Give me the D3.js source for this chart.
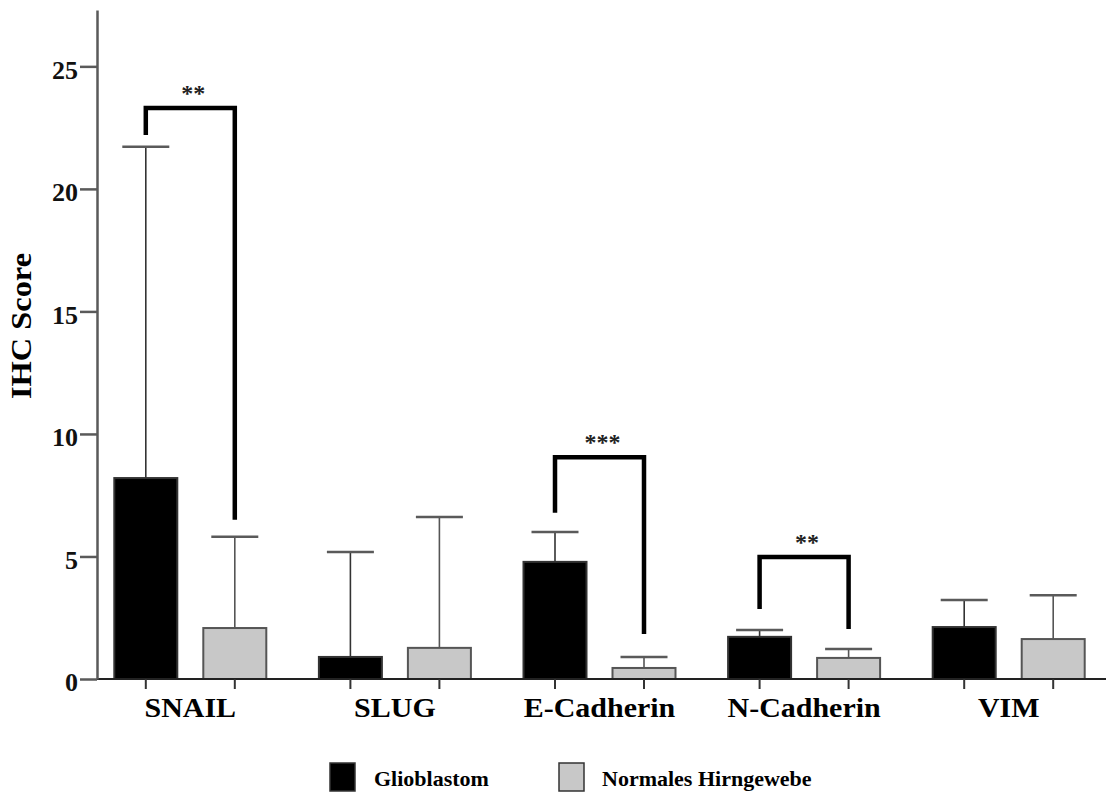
<!DOCTYPE html>
<html>
<head>
<meta charset="utf-8">
<script src="https://cdn.jsdelivr.net/npm/d3@7"></script>
<style>
  html, body { margin: 0; padding: 0; background: #fff; }
  svg { display: block; }
  text { font-family: "Liberation Serif", "Tinos", "Times New Roman", Times, "DejaVu Serif", serif; font-weight: bold; }
</style>
</head>
<body>
<script>
// ---------- data ----------
const categories = ["SNAIL", "SLUG", "E-Cadherin", "N-Cadherin", "VIM"];
const seriesNames = ["Glioblastom", "Normales Hirngewebe"];
const glioblastomMean  = [8.2, 0.9, 4.78, 1.72, 2.12];
const glioblastomUpper = [21.72, 5.18, 6.0, 2.0, 3.22];
const normalMean  = [2.08, 1.27, 0.45, 0.86, 1.63];
const normalUpper = [5.8, 6.61, 0.9, 1.22, 3.42];
const yTicks = [0, 5, 10, 15, 20, 25];
const yLabel = "IHC Score";
// significance brackets: category, stars, top, left leg end, right leg end
const sigCategory = ["SNAIL", "E-Cadherin", "N-Cadherin"];
const sigStars    = ["**", "***", "**"];
const sigTop      = [23.3, 9.05, 4.98];
const sigLeftEnd  = [22.2, 6.78, 2.86];
const sigRightEnd = [6.5, 1.84, 2.04];

// ---------- layout ----------
const W = 1106, H = 795;
const svg = d3.select("body").append("svg").attr("width", W).attr("height", H);

const y = d3.scaleLinear().domain([0, 27.3]).range([679, 10]);
const x0 = d3.scaleBand().domain(categories).range([88, 1111]).padding(0);
const x1 = d3.scaleBand().domain(seriesNames).range([-89, 89]).paddingInner(26 / 89).paddingOuter(13 / 89);
const fills = { "Glioblastom": "#000000", "Normales Hirngewebe": "#c8c8c8" };

const rows = [];
categories.forEach((c, i) => {
  rows.push({ cat: c, s: seriesNames[0], v: glioblastomMean[i], up: glioblastomUpper[i] });
  rows.push({ cat: c, s: seriesNames[1], v: normalMean[i], up: normalUpper[i] });
});
const barC = (cat, s) => x0(cat) + x0.bandwidth() / 2 + x1(s) + x1.bandwidth() / 2;

// bars
svg.append("g").selectAll("rect").data(rows).join("rect")
  .attr("x", d => x0(d.cat) + x0.bandwidth() / 2 + x1(d.s))
  .attr("width", x1.bandwidth())
  .attr("y", d => y(d.v))
  .attr("height", d => y(0) - y(d.v))
  .attr("fill", d => fills[d.s])
  .attr("stroke", d => d.s === seriesNames[0] ? "#333" : "#555")
  .attr("stroke-width", 2);

// error bars
const eb = svg.append("g");
eb.selectAll("line.stem").data(rows).join("line").attr("class", "stem")
  .attr("x1", d => barC(d.cat, d.s)).attr("x2", d => barC(d.cat, d.s))
  .attr("y1", d => y(d.v)).attr("y2", d => y(d.up))
  .attr("stroke", d => d.s === seriesNames[0] ? "#333" : "#555").attr("stroke-width", 1.6);
eb.selectAll("line.cap").data(rows).join("line").attr("class", "cap")
  .attr("x1", d => barC(d.cat, d.s) - 23.5).attr("x2", d => barC(d.cat, d.s) + 23.5)
  .attr("y1", d => y(d.up)).attr("y2", d => y(d.up))
  .attr("stroke", "#5a5a5a").attr("stroke-width", 2.5);

// x axis line + small ticks under bars
svg.append("line").attr("x1", 97).attr("x2", W).attr("y1", y(0)).attr("y2", y(0))
  .attr("stroke", "#222").attr("stroke-width", 1.8);
svg.append("g").selectAll("line").data(rows).join("line")
  .attr("x1", d => barC(d.cat, d.s)).attr("x2", d => barC(d.cat, d.s))
  .attr("y1", y(0)).attr("y2", y(0) + 10)
  .attr("stroke", "#333").attr("stroke-width", 2);

const xAxis = svg.append("g").attr("transform", `translate(0,${y(0)})`)
  .call(d3.axisBottom(x0).tickSize(0).tickPadding(18));
xAxis.select(".domain").remove();
xAxis.attr("font-family", null);
xAxis.selectAll("text").attr("font-size", 28).attr("fill", "#000").attr("font-family", null)
  .each(function () {
    const len = this.getComputedTextLength();
    d3.select(this).attr("textLength", len * 1.07).attr("lengthAdjust", "spacingAndGlyphs");
  });

// y axis
const yAxis = svg.append("g").attr("transform", "translate(97,0)")
  .call(d3.axisLeft(y).tickValues(yTicks).tickSize(17).tickSizeOuter(0).tickPadding(2));
yAxis.attr("font-family", null);
yAxis.select(".domain").attr("stroke", "#5a5a5a").attr("stroke-width", 2.5);
yAxis.selectAll(".tick line").attr("stroke", "#5a5a5a").attr("stroke-width", 2.5);
yAxis.selectAll("text").attr("font-size", 26).attr("fill", "#111").attr("dy", "0.45em").attr("font-family", null);

svg.append("text").attr("transform", "translate(31,326) rotate(-90)")
  .attr("text-anchor", "middle").attr("font-size", 30).attr("fill", "#000")
  .attr("textLength", 146).attr("lengthAdjust", "spacingAndGlyphs").text(yLabel);

// significance brackets
const sig = sigCategory.map((c, i) => ({ cat: c, stars: sigStars[i], top: sigTop[i], l: sigLeftEnd[i], r: sigRightEnd[i] }));
const sg = svg.append("g");
sg.selectAll("path").data(sig).join("path")
  .attr("d", d => {
    const xl = barC(d.cat, seriesNames[0]), xr = barC(d.cat, seriesNames[1]);
    return `M${xl},${y(d.l)}V${y(d.top)}H${xr}V${y(d.r)}`;
  })
  .attr("fill", "none").attr("stroke", "#000").attr("stroke-width", 4.5).attr("stroke-linejoin", "miter");
sg.selectAll("text").data(sig).join("text")
  .attr("x", d => (barC(d.cat, seriesNames[0]) + barC(d.cat, seriesNames[1])) / 2 + 3)
  .attr("y", d => y(d.top) - 7)
  .attr("text-anchor", "middle").attr("font-size", 24).attr("fill", "#222")
  .text(d => d.stars);

// legend
const leg = svg.append("g");
const legX = [330, 559], legTextX = [374, 602];
seriesNames.forEach((s, i) => {
  leg.append("rect").attr("x", legX[i]).attr("y", 763).attr("width", 25).attr("height", 28)
    .attr("fill", fills[s]).attr("stroke", "#333").attr("stroke-width", 1.5);
  leg.append("text").attr("x", legTextX[i]).attr("y", 786).attr("font-size", 22)
    .attr("fill", "#000").text(s);
});
</script>
</body>
</html>
